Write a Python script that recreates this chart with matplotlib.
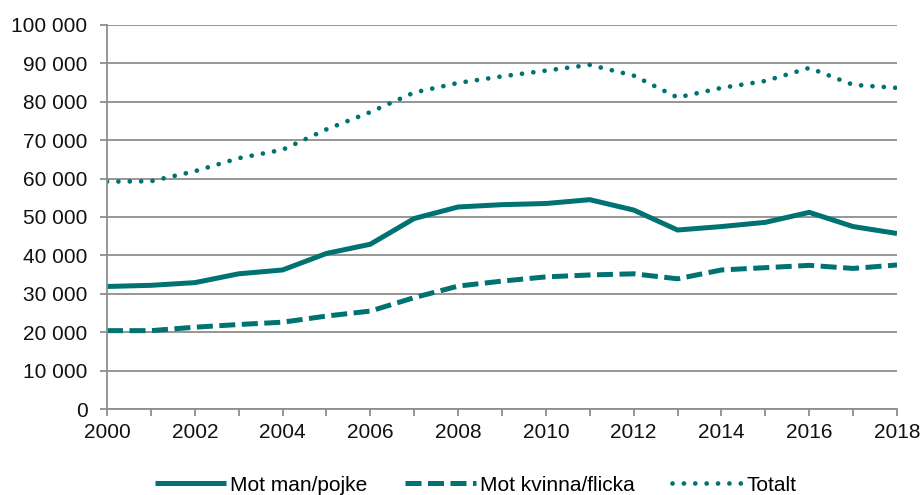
import matplotlib.pyplot as plt
from matplotlib.ticker import FuncFormatter, MultipleLocator

# Values
years = list(range(2000, 2019))
mot_man = [31900, 32200, 32900, 35200, 36200, 40500, 42900, 49600, 52600, 53200,
           53500, 54500, 51800, 46600, 47500, 48600, 51200, 47500, 45700]
mot_kvinna = [20400, 20400, 21300, 22000, 22600, 24200, 25500, 29000, 32000, 33300,
              34400, 34900, 35200, 33900, 36200, 36800, 37400, 36600, 37500]
totalt = [59200, 59300, 61900, 65300, 67500, 72800, 77300, 82400, 84900, 86600,
          88100, 89600, 86800, 81100, 83600, 85400, 88800, 84400, 83600]

teal = '#007272'
grid_grey = '#8e8e8e'

plt.rcParams['font.family'] = ['Liberation Sans', 'DejaVu Sans']

fig = plt.figure(figsize=(9.24, 4.95), dpi=100)
ax = fig.add_axes([0.1158, 0.1737, 0.855, 0.776])

ax.plot(years, mot_man, color=teal, lw=3.6, solid_capstyle='butt',
        label='Mot man/pojke')
ax.plot(years, mot_kvinna, color=teal, lw=3.6, linestyle=(0, (3.2, 1.3)),
        dash_capstyle='butt', label='Mot kvinna/flicka')
ax.plot(years, totalt, color=teal, lw=3.4, linestyle=(0, (0.01, 2.4)),
        dash_capstyle='round', label='Totalt')

ax.set_xlim(2000, 2018)
ax.set_ylim(0, 100000)
ax.yaxis.set_major_locator(MultipleLocator(10000))
ax.yaxis.set_major_formatter(FuncFormatter(lambda v, p: f'{int(v):,}'.replace(',', ' ')))
ax.xaxis.set_major_locator(MultipleLocator(2))
ax.xaxis.set_minor_locator(MultipleLocator(1))

ax.grid(axis='y', color=grid_grey, lw=1.3)
ax.set_axisbelow(True)
for s in ['top', 'right']:
    ax.spines[s].set_visible(False)
for s in ['left', 'bottom']:
    ax.spines[s].set_color(grid_grey)
    ax.spines[s].set_linewidth(1.3)

ax.tick_params(axis='both', which='both', color=grid_grey, width=1.3, length=5,
               labelsize=15, labelcolor='#111111')
ax.tick_params(axis='y', pad=9)
ax.tick_params(axis='x', pad=5)

ax.legend(loc='upper center', bbox_to_anchor=(0.467, -0.125), ncol=3, frameon=False,
          fontsize=15, handlelength=3.4, handletextpad=0.2, columnspacing=1.8)

plt.savefig('out.png', dpi=100)
